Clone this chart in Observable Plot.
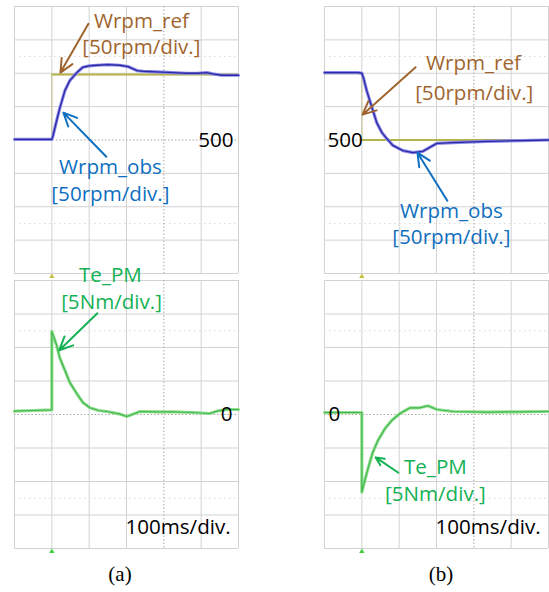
<!DOCTYPE html>
<html><head><meta charset="utf-8">
<script src="https://cdn.jsdelivr.net/npm/d3@7"></script>
<script src="https://cdn.jsdelivr.net/npm/@observablehq/plot@0.6"></script>
<style>
body{margin:0;background:#fff}
#c{position:relative;width:549px;height:592px;overflow:hidden;background:#fff}
#c>*{position:absolute}
.cap{font-family:"Liberation Serif",serif;font-size:21px;line-height:1;width:60px;text-align:center;color:#000}
</style>
</head><body><div id="c"></div>
<script>
// ---- time axis (ms), 100 ms/div ----
const timeTicks = [-100, 0, 100, 200, 400, 500];
const timeCenter = [300];
// speed axis (rpm), 50 rpm/div
const rpmTicks = [300, 350, 400, 450, 550, 600, 650, 700];
const rpmCenter = [500];
const rpmCursor = [375, 625];
// torque axis (Nm), 5 Nm/div
const nmTicks = [-20, -15, -10, -5, 5, 10, 15, 20];
const nmCenter = [0];
const nmCursor = [-12.5, 12.5];

// ---- panel (a): speed step up ----
const aRefT = [-100, 0, 0, 500];
const aRefW = [500, 500, 598, 598];
const aObsT = [-100, -50, 0, 3, 12, 21, 35, 48, 67, 83, 100, 121, 150, 182, 204, 216, 228, 244, 280, 324, 362, 390, 415, 431, 455, 500];
const aObsW = [501, 501, 501, 506, 527, 547, 574, 589, 601, 609, 611, 612, 613, 612, 610, 607, 604, 603, 602, 601, 600, 600, 601, 599, 597, 597];
const aTeT = [-100, -50, 0, 0, 13, 21, 35, 48, 67, 83, 102, 125, 147, 180, 201, 215, 236, 280, 324, 380, 423, 442, 469, 500];
const aTeN = [0.5, 0.6, 0.7, 12.4, 10.3, 8.5, 6.6, 4.8, 3.1, 1.8, 1.0, 0.6, 0.45, 0.1, -0.3, 0.0, 0.45, 0.4, 0.4, 0.3, 0.15, 0.5, 0.75, 0.75];

// ---- panel (b): speed step down ----
const bRefT = [-100, 0, 0, 500];
const bRefW = [600, 600, 500, 500];
const bObsT = [-100, -50, -10, 0, 5, 13, 27, 40, 54, 67, 83, 110, 137, 163, 182, 201, 244, 335, 423, 500];
const bObsW = [601, 601, 601, 600, 592, 574, 549, 526, 511, 502, 492, 484, 481, 483, 489, 495, 496, 498, 499, 500];
const bTeT = [-100, -20, 0, 0, 3, 13, 21, 29, 43, 62, 80, 102, 129, 155, 177, 201, 244, 335, 420, 500];
const bTeN = [0.3, 0.3, 0.3, -11.6, -10.9, -8.8, -7.2, -5.7, -3.9, -2.1, -0.9, 0.15, 1.0, 1.0, 1.3, 0.75, 0.45, 0.35, 0.4, 0.45];

// ---- annotations (data units) ----
const labelsTopA = [
  {x: 240, y: 678, text: "Wrpm_ref", c: "brown", a: "middle"},
  {x: 240, y: 639, text: "[50rpm/div.]", c: "brown", a: "middle"},
  {x: 157, y: 459, text: "Wrpm_obs", c: "blue", a: "middle"},
  {x: 157, y: 419, text: "[50rpm/div.]", c: "blue", a: "middle"},
  {x: 487, y: 500, text: "500", c: "black", a: "end"}
];
const arrowsTopA = [
  {x1: 98, y1: 674, x2: 23, y2: 601, c: "brown"},
  {x1: 146, y1: 475, x2: 31, y2: 541, c: "blue"}
];
const labelsTopB = [
  {x: 299, y: 614, text: "Wrpm_ref", c: "brown", a: "middle"},
  {x: 301, y: 570, text: "[50rpm/div.]", c: "brown", a: "middle"},
  {x: 240, y: 393, text: "Wrpm_obs", c: "blue", a: "middle"},
  {x: 240, y: 354, text: "[50rpm/div.]", c: "blue", a: "middle"},
  {x: -92, y: 500, text: "500", c: "black", a: "start"}
];
const arrowsTopB = [
  {x1: 144, y1: 609, x2: 2, y2: 538, c: "brown"},
  {x1: 229, y1: 409, x2: 149, y2: 481, c: "blue"}
];
const labelsBotA = [
  {x: 157, y: 20.7, text: "Te_PM", c: "green", a: "middle"},
  {x: 160, y: 16.8, text: "[5Nm/div.]", c: "green", a: "middle"},
  {x: 484, y: 0, text: "0", c: "black", a: "end"},
  {x: 479, y: -16.8, text: "100ms/div.", c: "black", a: "end"}
];
const arrowsBotA = [
  {x1: 122, y1: 15.1, x2: 20, y2: 9.6, c: "green"}
];
const labelsBotB = [
  {x: 197, y: -7.85, text: "Te_PM", c: "green", a: "middle"},
  {x: 197, y: -11.9, text: "[5Nm/div.]", c: "green", a: "middle"},
  {x: -89, y: 0, text: "0", c: "black", a: "start"},
  {x: 479, y: -16.8, text: "100ms/div.", c: "black", a: "end"}
];
const arrowsBotB = [
  {x1: 98, y1: -8.7, x2: 37, y2: -6.4, c: "green"}
];

const colors = {brown: "#a0652f", blue: "#0f6fc0", green: "#14b155", black: "#000"};

const zip = (T, V) => T.map((t, i) => ({t, v: V[i]}));

function panel(o) {
  const textMarks = ["start", "middle", "end"].map(a =>
    Plot.text(o.labels.filter(d => d.a === a), {x: "x", y: "y", text: "text", fill: d => colors[d.c], textAnchor: a, fontSize: 20.6, fontFamily: "Open Sans"}));
  const marks = [
    Plot.ruleX(timeTicks, {stroke: "#d2d2d2", strokeWidth: 1}),
    Plot.ruleY(o.yTicks, {stroke: "#d2d2d2", strokeWidth: 1}),
    Plot.ruleY(o.yCursor, {stroke: "#dadada", strokeWidth: 1, strokeDasharray: "1.5,3.5"}),
    Plot.ruleX(timeCenter, {stroke: "#a8a8a8", strokeWidth: 1, strokeDasharray: "1.5,2"}),
    Plot.ruleY(o.yCenter, {stroke: "#a8a8a8", strokeWidth: 1, strokeDasharray: "1.5,2"}),
    ...o.traces,
    Plot.dot([0], {x: d => d, frameAnchor: "bottom", dy: 3, symbol: "triangle", r: 2, fill: o.markerColor, stroke: "none"}),
    Plot.arrow(o.arrows, {x1: "x1", y1: "y1", x2: "x2", y2: "y2", stroke: d => colors[d.c], strokeWidth: 2, headLength: 11, headAngle: 50}),
    ...textMarks
  ];
  const svg = Plot.plot({
    width: o.width, height: o.height,
    marginLeft: o.ml, marginRight: o.mr, marginTop: o.mt, marginBottom: o.mb,
    x: {domain: [-100, 500], axis: null},
    y: {domain: o.yDomain, axis: null},
    color: {type: "identity"},
    style: {background: "none", overflow: "visible", fontFamily: "Open Sans"},
    marks
  });
  svg.style.left = o.left + "px";
  svg.style.top = o.top + "px";
  svg.style.overflow = "visible";
  document.getElementById("c").appendChild(svg);
}

function speedTraces(refT, refW, obsT, obsW) {
  return [
    Plot.line(zip(refT, refW), {x: "t", y: "v", stroke: "#c9c79a", strokeWidth: 1.2}),
    Plot.ruleY([refW[0]], {x1: refT[0], x2: refT[1], stroke: "#b5b34c", strokeWidth: 2}),
    Plot.ruleY([refW[3]], {x1: refT[2], x2: refT[3], stroke: "#b5b34c", strokeWidth: 2}),
    Plot.line(zip(obsT, obsW), {x: "t", y: "v", stroke: "#8a86e6", strokeWidth: 3.2, strokeLinejoin: "round"}),
    Plot.line(zip(obsT, obsW), {x: "t", y: "v", stroke: "#2c2ba6", strokeWidth: 1.3, strokeLinejoin: "round"})
  ];
}
function torqueTraces(T, N) {
  return [
    Plot.line(zip(T, N), {x: "t", y: "v", stroke: "#92df92", strokeWidth: 3.2, strokeLinejoin: "round"}),
    Plot.line(zip(T, N), {x: "t", y: "v", stroke: "#44b84e", strokeWidth: 1.2, strokeLinejoin: "round"})
  ];
}

panel({left: 0, top: 0, width: 275, height: 275, ml: 14, mr: 37, mt: 6, mb: 2,
  yDomain: [300, 700], yTicks: rpmTicks, yCenter: rpmCenter, yCursor: rpmCursor,
  traces: speedTraces(aRefT, aRefW, aObsT, aObsW), markerColor: "#c8c040",
  labels: labelsTopA, arrows: arrowsTopA});
panel({left: 275, top: 0, width: 274, height: 275, ml: 49, mr: 1, mt: 6, mb: 2,
  yDomain: [300, 700], yTicks: rpmTicks, yCenter: rpmCenter, yCursor: rpmCursor,
  traces: speedTraces(bRefT, bRefW, bObsT, bObsW), markerColor: "#c8c040",
  labels: labelsTopB, arrows: arrowsTopB});
panel({left: 0, top: 275, width: 275, height: 285, ml: 14, mr: 37, mt: 5, mb: 12,
  yDomain: [-20, 20], yTicks: nmTicks, yCenter: nmCenter, yCursor: nmCursor,
  traces: torqueTraces(aTeT, aTeN), markerColor: "#40d040",
  labels: labelsBotA, arrows: arrowsBotA});
panel({left: 275, top: 275, width: 274, height: 285, ml: 49, mr: 1, mt: 5, mb: 12,
  yDomain: [-20, 20], yTicks: nmTicks, yCenter: nmCenter, yCursor: nmCursor,
  traces: torqueTraces(bTeT, bTeN), markerColor: "#40d040",
  labels: labelsBotB, arrows: arrowsBotB});

const c = document.getElementById("c");
[["(a)", 90], ["(b)", 411]].forEach(([t, l]) => {
  const d = document.createElement("div");
  d.className = "cap"; d.textContent = t;
  d.style.left = l + "px"; d.style.top = "564px";
  c.appendChild(d);
});
</script></body></html>
